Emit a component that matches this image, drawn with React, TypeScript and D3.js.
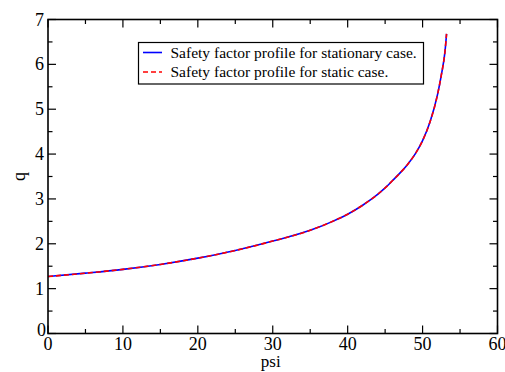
import React, { useEffect, useRef } from 'react'
import * as d3 from 'd3'

// psi values and safety factor q
const psi = [0, 5, 10, 15, 20, 25, 30, 35, 38, 40, 42, 44, 45, 46, 47, 48, 49, 50, 51, 52, 52.5, 53, 53.2]
const qStationary = [1.27, 1.345, 1.43, 1.54, 1.68, 1.85, 2.06, 2.3, 2.5, 2.66, 2.86, 3.1, 3.245, 3.41, 3.58, 3.77, 4.0, 4.3, 4.72, 5.33, 5.76, 6.3, 6.68]
const qStatic = [1.27, 1.345, 1.43, 1.54, 1.68, 1.85, 2.06, 2.3, 2.5, 2.66, 2.86, 3.1, 3.245, 3.41, 3.58, 3.77, 4.0, 4.3, 4.72, 5.33, 5.76, 6.3, 6.68]

const xTicks = [0, 10, 20, 30, 40, 50, 60]
const yTicks = [0, 1, 2, 3, 4, 5, 6, 7]
const legendLabels = ['Safety factor profile for stationary case.', 'Safety factor profile for static case.']

const App: React.FC = () => {
  const ref = useRef<SVGSVGElement | null>(null)

  useEffect(() => {
    if (!ref.current) return
    const svg = d3.select(ref.current)
    svg.selectAll('*').remove()

    const left = 48, right = 497.5, top = 19.5, bottom = 333.5
    const font = "'Liberation Serif', 'Times New Roman', serif"

    const x = d3.scaleLinear().domain([0, 60]).range([left, right])
    const y = d3.scaleLinear().domain([0, 7]).range([bottom, top])

    const g = svg.append('g')

    // minor + major ticks on all four sides, pointing inward
    const minorX = d3.range(5, 60, 10)
    const minorY = d3.range(0.5, 7, 1)
    const tickG = g.append('g').attr('stroke', '#000').attr('stroke-width', 1.2)
    const majorLen = 8, minorLen = 4.5
    xTicks.forEach(t => {
      tickG.append('line').attr('x1', x(t)).attr('x2', x(t)).attr('y1', bottom).attr('y2', bottom - majorLen)
      tickG.append('line').attr('x1', x(t)).attr('x2', x(t)).attr('y1', top).attr('y2', top + majorLen)
    })
    minorX.forEach(t => {
      tickG.append('line').attr('x1', x(t)).attr('x2', x(t)).attr('y1', bottom).attr('y2', bottom - minorLen)
      tickG.append('line').attr('x1', x(t)).attr('x2', x(t)).attr('y1', top).attr('y2', top + minorLen)
    })
    yTicks.forEach(t => {
      tickG.append('line').attr('y1', y(t)).attr('y2', y(t)).attr('x1', left).attr('x2', left + majorLen)
      tickG.append('line').attr('y1', y(t)).attr('y2', y(t)).attr('x1', right).attr('x2', right - majorLen)
    })
    minorY.forEach(t => {
      tickG.append('line').attr('y1', y(t)).attr('y2', y(t)).attr('x1', left).attr('x2', left + minorLen)
      tickG.append('line').attr('y1', y(t)).attr('y2', y(t)).attr('x1', right).attr('x2', right - minorLen)
    })

    // tick labels
    g.selectAll('.xl').data(xTicks).join('text')
      .attr('x', d => x(d)).attr('y', bottom + 16.5)
      .attr('text-anchor', 'middle')
      .style('font-family', font).style('font-size', '18px')
      .text(d => d)
    g.selectAll('.yl').data(yTicks).join('text')
      .attr('x', d => d === 0 ? left - 2 : left - 4)
      .attr('y', d => d === 0 ? y(d) + 2 : y(d) + 6)
      .attr('text-anchor', 'end')
      .style('font-family', font).style('font-size', '18px')
      .text(d => d)

    // axis titles
    g.append('text').attr('x', x(30) - 2).attr('y', 367)
      .attr('text-anchor', 'middle')
      .style('font-family', font).style('font-size', '17px').text('psi')
    g.append('text')
      .attr('transform', `translate(25,${(top + bottom) / 2}) rotate(-90)`)
      .attr('text-anchor', 'middle')
      .style('font-family', font).style('font-size', '18px').text('q')

    // curves
    const line = d3.line<number>()
      .x((_, i) => x(psi[i]))
      .y(d => y(d))
      .curve(d3.curveMonotoneX)

    g.append('path').datum(qStationary)
      .attr('fill', 'none').attr('stroke', '#0000ff').attr('stroke-width', 1.6)
      .attr('d', line)
    g.append('path').datum(qStatic)
      .attr('fill', 'none').attr('stroke', '#ff0000').attr('stroke-width', 1.6)
      .attr('stroke-dasharray', '5,3')
      .attr('d', line)

    // frame
    g.append('rect')
      .attr('x', left).attr('y', top)
      .attr('width', right - left).attr('height', bottom - top)
      .attr('fill', 'none').attr('stroke', '#000').attr('stroke-width', 1.6)

    // legend
    const lg = g.append('g')
    lg.append('rect')
      .attr('x', 138.5).attr('y', 42.5).attr('width', 285).attr('height', 41.5)
      .attr('fill', '#fff').attr('stroke', '#000').attr('stroke-width', 1.2)
    const legendColors = ['#0000ff', '#ff0000']
    legendLabels.forEach((label, i) => {
      const cy = 52.5 + i * 19.5
      lg.append('line')
        .attr('x1', 143).attr('x2', 162).attr('y1', cy).attr('y2', cy)
        .attr('stroke', legendColors[i]).attr('stroke-width', 1.6)
        .attr('stroke-dasharray', i === 1 ? '5,3' : null)
      lg.append('text')
        .attr('x', 170.5).attr('y', cy + 5)
        .style('font-family', font).style('font-size', '15.5px')
        .text(label)
    })
  }, [])

  return (
    <svg
      ref={ref}
      width={505}
      height={372}
      style={{ position: 'absolute', left: 0, top: 0, background: '#fff' }}
    />
  )
}

export default App
